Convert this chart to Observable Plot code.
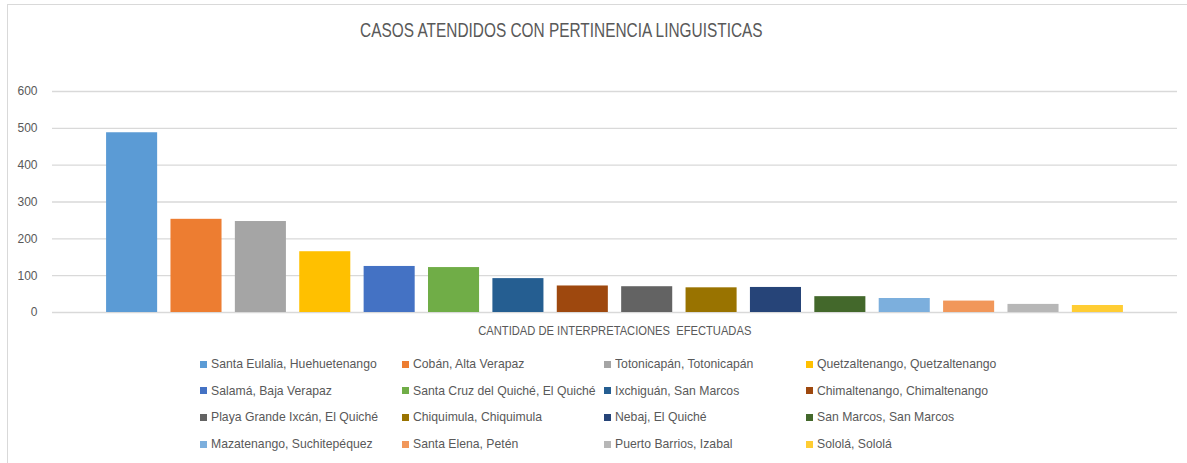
<!DOCTYPE html>
<html>
<head>
<meta charset="utf-8">
<script src="https://cdn.jsdelivr.net/npm/d3@7"></script>
<script src="https://cdn.jsdelivr.net/npm/@observablehq/plot@0.6"></script>
<style>
  html, body { margin: 0; padding: 0; background: #fff; }
  body { width: 1187px; height: 463px; overflow: hidden; position: relative; font-family: "Liberation Sans", Arial, sans-serif; }
  #frame { position: absolute; left: 7px; top: 4px; width: 1200px; height: 480px; border-left: 1.5px solid #d9d9d9; border-top: 1.5px solid #d9d9d9; }
  #title { position: absolute; left: 0; top: 19px; width: 1122px; text-align: center; font-family: "Liberation Sans", Arial, sans-serif; font-size: 20px; color: #595959; }
  #title span { display: inline-block; transform: scaleX(0.77); transform-origin: 50% 50%; white-space: nowrap; }
  #chart { position: absolute; left: 0; top: 60px; }
  #xlabel { position: absolute; left: 0; top: 323px; width: 1229px; text-align: center; font-family: "Liberation Sans", Arial, sans-serif; font-size: 13px; color: #595959; }
  #xlabel span { display: inline-block; transform: scaleX(0.86); transform-origin: 50% 50%; white-space: pre; }
  #legend { position: absolute; left: 200px; top: 356px; display: grid; grid-template-columns: repeat(4, 202px); row-gap: 10.7px; }
  .item { display: flex; align-items: center; height: 16px; font-family: "Liberation Sans", sans-serif; font-size: 12.6px; color: #595959; white-space: nowrap; }
  .item span.tx { display: inline-block; transform: scaleX(0.97); transform-origin: 0 50%; }
  .sw { width: 7px; height: 7px; margin-right: 4px; flex: none; }
</style>
</head>
<body>
<div id="frame"></div>
<div id="title"><span>CASOS ATENDIDOS CON PERTINENCIA LINGUISTICAS</span></div>
<div id="chart"></div>
<div id="xlabel"><span>CANTIDAD DE INTERPRETACIONES  EFECTUADAS</span></div>
<div id="legend"></div>
<script>
const sedes = [
  "Santa Eulalia, Huehuetenango", "Cobán, Alta Verapaz", "Totonicapán, Totonicapán", "Quetzaltenango, Quetzaltenango",
  "Salamá, Baja Verapaz", "Santa Cruz del Quiché, El Quiché", "Ixchiguán, San Marcos", "Chimaltenango, Chimaltenango",
  "Playa Grande Ixcán, El Quiché", "Chiquimula, Chiquimula", "Nebaj, El Quiché", "San Marcos, San Marcos",
  "Mazatenango, Suchitepéquez", "Santa Elena, Petén", "Puerto Barrios, Izabal", "Sololá, Sololá"
];
const casos = [488, 253, 247, 165, 125, 122, 92, 72, 70, 67, 68, 43, 38, 31, 22, 19];
const colores = [
  "#5B9BD5", "#ED7D31", "#A5A5A5", "#FFC000",
  "#4472C4", "#70AD47", "#255E91", "#9E480E",
  "#636363", "#997300", "#264478", "#43682B",
  "#7CAFDD", "#F1975A", "#B7B7B7", "#FFCD33"
];
const yTicks = [0, 100, 200, 300, 400, 500, 600];

const data = sedes.map((s, i) => ({sede: s, casos: casos[i]}));

const chart = Plot.plot({
  width: 1187,
  height: 280,
  marginTop: 31,
  marginBottom: 28,
  marginLeft: 52,
  marginRight: 10,
  style: {fontFamily: "Liberation Sans, Arial, sans-serif", fontSize: "12px", color: "#595959", background: "transparent"},
  x: {domain: sedes, axis: null, range: [52, 1177], round: false, paddingInner: 0.207, paddingOuter: 0.84},
  y: {domain: [0, 600], ticks: yTicks, grid: false, label: null, tickSize: 0, tickPadding: 15},
  color: {domain: sedes, range: colores},
  marks: [
    Plot.gridY(yTicks, {stroke: "#d9d9d9", strokeOpacity: 1, strokeWidth: 1.3}),
    Plot.barY(data, {x: "sede", y: "casos", fill: "sede"}),
    Plot.axisY(yTicks, {tickSize: 0, tickPadding: 15, label: null, fill: "#595959"})
  ]
});
document.getElementById("chart").appendChild(chart);

const legend = document.getElementById("legend");
sedes.forEach((s, i) => {
  const it = document.createElement("div");
  it.className = "item";
  const sw = document.createElement("span");
  sw.className = "sw";
  sw.style.background = colores[i];
  const t = document.createElement("span");
  t.className = "tx";
  t.textContent = s;
  it.appendChild(sw);
  it.appendChild(t);
  legend.appendChild(it);
});
</script>
</body>
</html>
